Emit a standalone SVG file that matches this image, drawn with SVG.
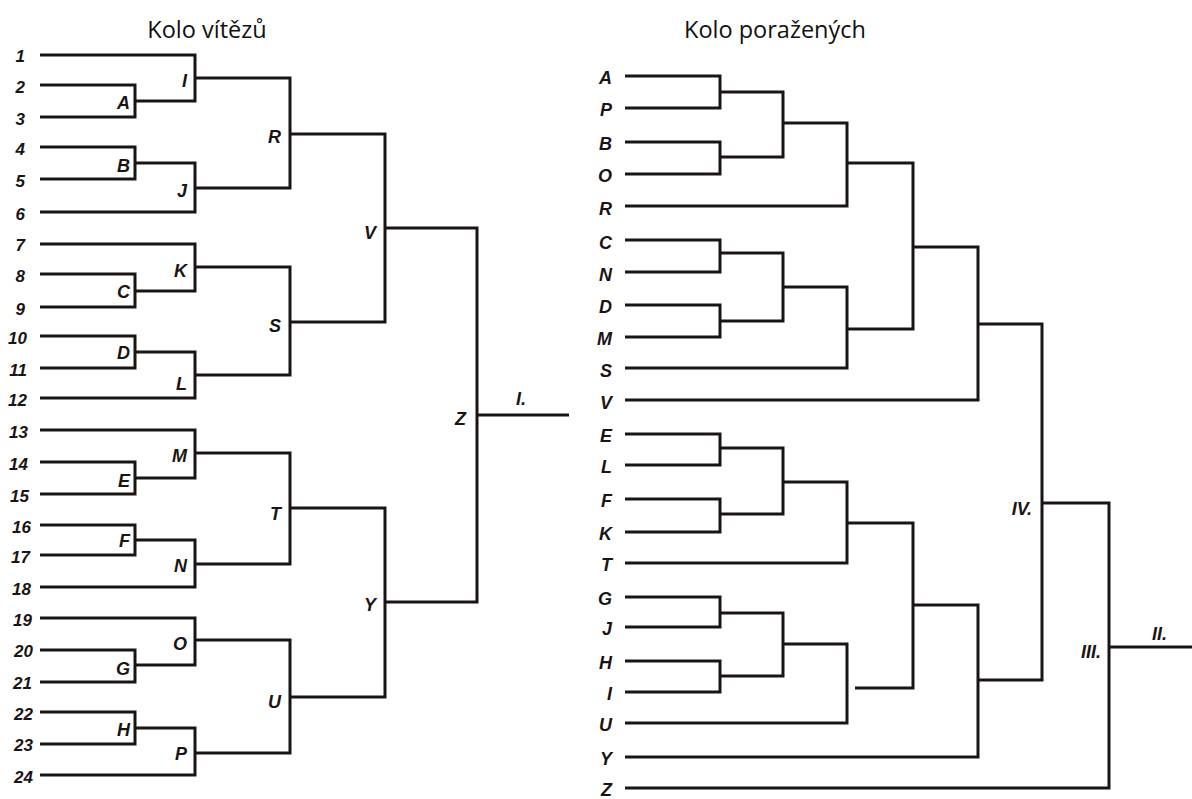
<svg xmlns="http://www.w3.org/2000/svg" width="1192" height="799" viewBox="0 0 1192 799">
<style>
.ln{fill:none;stroke:#1b1414;stroke-width:3;stroke-linejoin:miter;stroke-linecap:butt}
.t{font-family:"Open Sans","Liberation Sans",sans-serif;font-size:23.5px;fill:#111;text-anchor:middle}
.n{font-family:"Liberation Sans",Arial,sans-serif;font-weight:bold;font-style:italic;font-size:17px;fill:#1b1414;text-anchor:end}
.l{font-family:"Liberation Sans",Arial,sans-serif;font-weight:bold;font-style:italic;font-size:18px;fill:#1b1414;text-anchor:end}
.s{text-anchor:start}
</style>
<rect width="1192" height="799" fill="#fff"/>
<g id="titles">
<text class="t" x="207" y="38">Kolo vítězů</text>
<text class="t" x="775" y="38">Kolo poražených</text>
</g>
<g id="connectors" class="ln">
<path d="M40 85H135V117H40"/>
<path d="M40 55H195V101H135"/>
<path d="M40 147H135V179H40"/>
<path d="M135 163H195V212H40"/>
<path d="M195 78H290V188H195"/>
<path d="M40 274H135V307H40"/>
<path d="M40 244H195V291H135"/>
<path d="M40 336H135V368H40"/>
<path d="M135 352H195V398H40"/>
<path d="M195 267H290V375H195"/>
<path d="M290 134H385V322H290"/>
<path d="M40 462H135V494H40"/>
<path d="M40 430H195V478H135"/>
<path d="M40 525H135V555H40"/>
<path d="M135 540H195V587H40"/>
<path d="M195 453H290V564H195"/>
<path d="M40 650H135V682H40"/>
<path d="M40 618H195V665H135"/>
<path d="M40 712H135V744H40"/>
<path d="M135 728H195V775H40"/>
<path d="M195 640H290V753H195"/>
<path d="M290 508H385V697H290"/>
<path d="M385 228H477V602H385"/>
<path d="M477 415H569"/>
<path d="M625 76H720V108H625"/>
<path d="M625 142H720V174H625"/>
<path d="M720 92H783V157H720"/>
<path d="M783 123H847V206H625"/>
<path d="M625 240H720V272H625"/>
<path d="M625 305H720V337H625"/>
<path d="M720 253H783V321H720"/>
<path d="M783 287H847V368H625"/>
<path d="M847 163H913V329H847"/>
<path d="M913 247H978V400H625"/>
<path d="M625 434H720V465H625"/>
<path d="M625 499H720V532H625"/>
<path d="M720 448H783V514H720"/>
<path d="M783 482H847V563H625"/>
<path d="M625 597H720V627H625"/>
<path d="M625 661H720V692H625"/>
<path d="M720 613H783V676H720"/>
<path d="M783 644H847V723H625"/>
<path d="M847 523H913V688H855"/>
<path d="M913 605H978V757H625"/>
<path d="M978 324H1042V680H978"/>
<path d="M1042 503H1109V788H625"/>
<path d="M1109 647H1192"/>
</g>
<g id="seeds">
<g id="n1"><text class="n" x="25" y="62">1</text></g>
<g id="n2"><text class="n" x="25" y="93">2</text></g>
<g id="n3"><text class="n" x="25" y="125">3</text></g>
<g id="n4"><text class="n" x="25" y="155">4</text></g>
<g id="n5"><text class="n" x="25" y="187">5</text></g>
<g id="n6"><text class="n" x="25" y="220">6</text></g>
<g id="n7"><text class="n" x="25" y="251">7</text></g>
<g id="n8"><text class="n" x="25" y="282">8</text></g>
<g id="n9"><text class="n" x="25" y="315">9</text></g>
<g id="n10"><text class="n" x="27" y="344">10</text></g>
<g id="n11"><text class="n" x="27" y="376">11</text></g>
<g id="n12"><text class="n" x="27" y="406">12</text></g>
<g id="n13"><text class="n" x="28" y="438">13</text></g>
<g id="n14"><text class="n" x="28" y="470">14</text></g>
<g id="n15"><text class="n" x="29" y="502">15</text></g>
<g id="n16"><text class="n" x="31" y="533">16</text></g>
<g id="n17"><text class="n" x="30" y="563">17</text></g>
<g id="n18"><text class="n" x="31" y="595">18</text></g>
<g id="n19"><text class="n" x="32" y="626">19</text></g>
<g id="n20"><text class="n" x="33" y="657">20</text></g>
<g id="n21"><text class="n" x="32" y="689">21</text></g>
<g id="n22"><text class="n" x="33" y="720">22</text></g>
<g id="n23"><text class="n" x="33" y="751">23</text></g>
<g id="n24"><text class="n" x="33" y="783">24</text></g>
</g>
<g id="winners">
<g id="wA"><text class="l" x="130" y="109">A</text></g>
<g id="wB"><text class="l" x="130" y="172">B</text></g>
<g id="wC"><text class="l" x="130" y="298">C</text></g>
<g id="wD"><text class="l" x="130" y="359">D</text></g>
<g id="wE"><text class="l" x="130" y="487">E</text></g>
<g id="wF"><text class="l" x="130" y="547">F</text></g>
<g id="wG"><text class="l" x="130" y="675">G</text></g>
<g id="wH"><text class="l" x="130" y="736">H</text></g>
<g id="wI"><text class="l" x="187" y="87">I</text></g>
<g id="wJ"><text class="l" x="187" y="197">J</text></g>
<g id="wK"><text class="l" x="187" y="277">K</text></g>
<g id="wL"><text class="l" x="187" y="390">L</text></g>
<g id="wM"><text class="l" x="187" y="462">M</text></g>
<g id="wN"><text class="l" x="187" y="572">N</text></g>
<g id="wO"><text class="l" x="187" y="650">O</text></g>
<g id="wP"><text class="l" x="187" y="760">P</text></g>
<g id="wR"><text class="l" x="281" y="143">R</text></g>
<g id="wS"><text class="l" x="281" y="332">S</text></g>
<g id="wT"><text class="l" x="281" y="520">T</text></g>
<g id="wU"><text class="l" x="281" y="708">U</text></g>
<g id="wV"><text class="l" x="376" y="239">V</text></g>
<g id="wY"><text class="l" x="376" y="611">Y</text></g>
<g id="wZ"><text class="l" x="466" y="425">Z</text></g>
<g id="w1"><text class="l s" x="516" y="405">I.</text></g>
</g>
<g id="losers">
<g id="lA"><text class="l" x="612" y="84">A</text></g>
<g id="lP"><text class="l" x="612" y="116">P</text></g>
<g id="lB"><text class="l" x="612" y="150">B</text></g>
<g id="lO"><text class="l" x="612" y="182">O</text></g>
<g id="lR"><text class="l" x="612" y="215">R</text></g>
<g id="lC"><text class="l" x="612" y="249">C</text></g>
<g id="lN"><text class="l" x="612" y="281">N</text></g>
<g id="lD"><text class="l" x="612" y="313">D</text></g>
<g id="lM"><text class="l" x="612" y="345">M</text></g>
<g id="lS"><text class="l" x="612" y="377">S</text></g>
<g id="lV"><text class="l" x="612" y="409">V</text></g>
<g id="lE"><text class="l" x="612" y="442">E</text></g>
<g id="lL"><text class="l" x="612" y="473">L</text></g>
<g id="lF"><text class="l" x="612" y="507">F</text></g>
<g id="lK"><text class="l" x="612" y="540">K</text></g>
<g id="lT"><text class="l" x="612" y="571">T</text></g>
<g id="lG"><text class="l" x="612" y="605">G</text></g>
<g id="lJ"><text class="l" x="612" y="635">J</text></g>
<g id="lH"><text class="l" x="612" y="669">H</text></g>
<g id="lI"><text class="l" x="612" y="700">I</text></g>
<g id="lU"><text class="l" x="612" y="731">U</text></g>
<g id="lY"><text class="l" x="612" y="765">Y</text></g>
<g id="lZ"><text class="l" x="612" y="796">Z</text></g>
<g id="r4"><text class="l" x="1032" y="515">IV.</text></g>
<g id="r3"><text class="l" x="1101" y="658">III.</text></g>
<g id="r2"><text class="l s" x="1152" y="640">II.</text></g>
</g>
</svg>
